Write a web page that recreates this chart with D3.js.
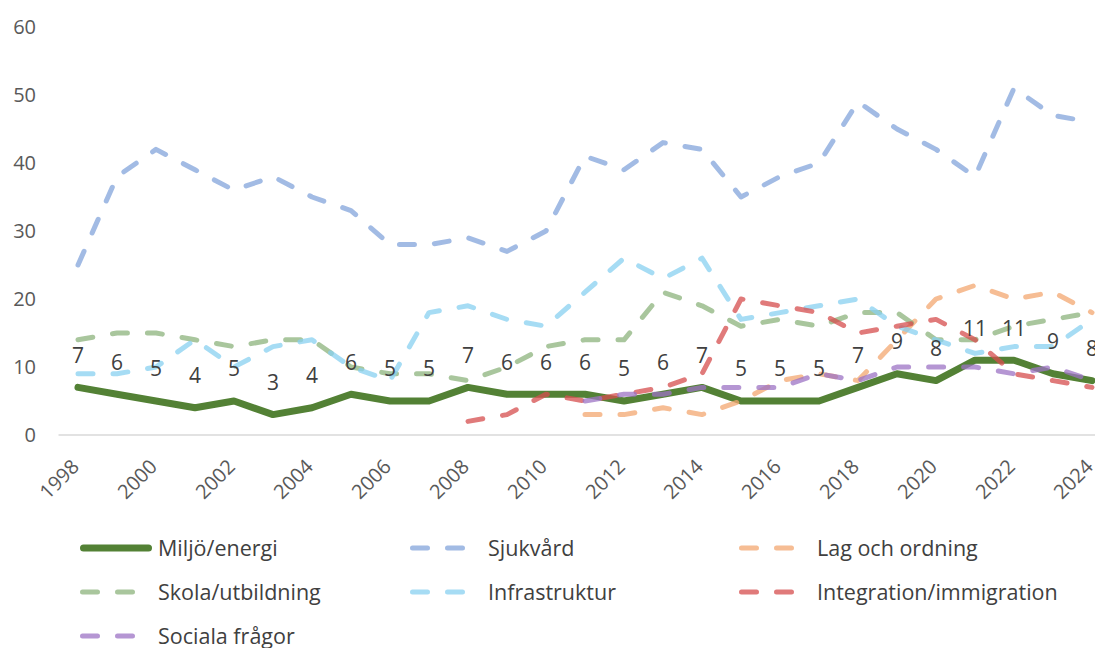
<!DOCTYPE html>
<html>
<head>
<meta charset="utf-8">
<script src="https://cdn.jsdelivr.net/npm/d3@7"></script>
<style>
  body { margin: 0; background: #fff; overflow: hidden; }
  text { font-family: "Open Sans", "Liberation Sans", Arial, sans-serif; }
</style>
</head>
<body>
<div id="chart"></div>
<script>
var years = [1998, 1999, 2000, 2001, 2002, 2003, 2004, 2005, 2006, 2007, 2008, 2009, 2010, 2011, 2012, 2013, 2014, 2015, 2016, 2017, 2018, 2019, 2020, 2021, 2022, 2023, 2024];

var miljo = [7, 6, 5, 4, 5, 3, 4, 6, 5, 5, 7, 6, 6, 6, 5, 6, 7, 5, 5, 5, 7, 9, 8, 11, 11, 9, 8];
var sjukvard = [25, 38, 42, 39, 36, 38, 35, 33, 28, 28, 29, 27, 30, 41, 39, 43, 42, 35, 38, 40, 49, 45, 42, 38, 51, 47, 46];
var lagOrdning = [null, null, null, null, null, null, null, null, null, null, null, null, null, 3, 3, 4, 3, 5, 8, 9, 8, 14, 20, 22, 20, 21, 18];
var skola = [14, 15, 15, 14, 13, 14, 14, 10, 9, 9, 8, 10, 13, 14, 14, 21, 19, 16, 17, 16, 18, 18, 14, 14, 16, 17, 18];
var infra = [9, 9, 10, 14, 10, 13, 14, 10, 8, 18, 19, 17, 16, 21, 26, 23, 26, 17, 18, 19, 20, 16, 14, 12, 13, 13, 17];
var integration = [null, null, null, null, null, null, null, null, null, null, 2, 3, 6, 5, 6, 7, 9, 20, 19, 18, 15, 16, 17, 14, 9, 8, 7];
var sociala = [null, null, null, null, null, null, null, null, null, null, null, null, null, 5, 6, 6, 7, 7, 7, 9, 8, 10, 10, 10, 9, 10, 8];

var yTicks = [0, 10, 20, 30, 40, 50, 60];
var xTickYears = [1998, 2000, 2002, 2004, 2006, 2008, 2010, 2012, 2014, 2016, 2018, 2020, 2022, 2024];

var series = [
  { name: "Miljö/energi", values: miljo, color: "#538135", dashed: false },
  { name: "Sjukvård", values: sjukvard, color: "#83a4db", dashed: true },
  { name: "Lag och ordning", values: lagOrdning, color: "#f3a770", dashed: true },
  { name: "Skola/utbildning", values: skola, color: "#8cb37c", dashed: true },
  { name: "Infrastruktur", values: infra, color: "#88d0f0", dashed: true },
  { name: "Integration/immigration", values: integration, color: "#d64e4e", dashed: true },
  { name: "Sociala frågor", values: sociala, color: "#9c73c4", dashed: true }
];

var w = 1095;
var h = 648;
var plotLeft = 58.5;
var step = 39;
var plotTop = 27;
var plotBottom = 435;
var dash = "15 20";
var font = "Open Sans, Liberation Sans, Arial, sans-serif";

const svg = d3.select("#chart").append("svg").attr("width", w).attr("height", h);

const xScale = d3
  .scalePoint()
  .domain(years)
  .range([plotLeft, plotLeft + step * years.length])
  .padding(0.5);

const yScale = d3.scaleLinear().domain([0, 60]).range([plotBottom, plotTop]);

// y labels (no axis line)
const yAxis = d3.axisLeft(yScale).tickValues(yTicks).tickSize(0).tickPadding(0);
svg
  .append("g")
  .attr("transform", "translate(36,0)")
  .call(yAxis)
  .call((g) => g.select(".domain").remove())
  .selectAll("text")
  .attr("font-size", "20px")
  .attr("fill", "#595959")
  .attr("font-family", font);

// baseline
svg
  .append("line")
  .attr("x1", plotLeft)
  .attr("x2", w)
  .attr("y1", yScale(0))
  .attr("y2", yScale(0))
  .attr("stroke", "#d9d9d9")
  .attr("stroke-width", 1.5);

// x labels
const xAxis = d3.axisBottom(xScale).tickValues(xTickYears).tickSize(0).tickPadding(0);
svg
  .append("g")
  .attr("transform", `translate(0,${plotBottom})`)
  .call(xAxis)
  .call((g) => g.select(".domain").remove())
  .selectAll("text")
  .attr("font-size", "20px")
  .attr("fill", "#595959")
  .attr("font-family", font)
  .attr("text-anchor", "end")
  .attr("dy", "0.35em")
  .attr("transform", "translate(-3,28) rotate(-45)");

const line = d3
  .line()
  .defined((d) => d != null)
  .x((d, i) => xScale(years[i]))
  .y((d) => yScale(d));

// solid line first, dashed lines over it
svg
  .append("path")
  .datum(miljo)
  .attr("fill", "none")
  .attr("stroke", series[0].color)
  .attr("stroke-width", 7)
  .attr("stroke-linejoin", "round")
  .attr("stroke-linecap", "round")
  .attr("d", line);

svg
  .selectAll(".dline")
  .data(series.filter((s) => s.dashed))
  .enter()
  .append("path")
  .attr("class", "dline")
  .attr("fill", "none")
  .attr("stroke", (s) => s.color)
  .attr("stroke-opacity", 0.75)
  .attr("stroke-width", 5)
  .attr("stroke-dasharray", dash)
  .attr("stroke-linecap", "round")
  .attr("stroke-linejoin", "round")
  .attr("d", (s) => line(s.values));

// data labels for Miljö/energi
svg
  .selectAll(".lbl")
  .data(miljo)
  .enter()
  .append("text")
  .attr("class", "lbl")
  .attr("x", (d, i) => xScale(years[i]))
  .attr("y", (d) => yScale(d) - 32)
  .attr("dy", "0.35em")
  .attr("text-anchor", "middle")
  .attr("font-size", "21px")
  .attr("fill", "#404040")
  .text((d) => d);

// legend
var colX = [80, 410, 739];
var rowY = [548, 592, 636];
const legend = svg
  .selectAll(".leg")
  .data(series)
  .enter()
  .append("g")
  .attr("class", "leg")
  .attr("transform", (s, i) => `translate(${colX[i % 3]},${rowY[Math.floor(i / 3)]})`);

legend
  .append("line")
  .attr("x1", (s) => (s.dashed ? 2.5 : 3.5))
  .attr("x2", (s) => (s.dashed ? 57.5 : 68.5))
  .attr("y1", 0)
  .attr("y2", 0)
  .attr("stroke", (s) => s.color)
  .attr("stroke-opacity", (s) => (s.dashed ? 0.75 : 1))
  .attr("stroke-width", (s) => (s.dashed ? 5 : 7))
  .attr("stroke-linecap", "round")
  .attr("stroke-dasharray", (s) => (s.dashed ? dash : null));

legend
  .append("text")
  .attr("x", 78)
  .attr("y", 0)
  .attr("dy", "0.35em")
  .attr("font-size", "21.5px")
  .attr("fill", "#404040")
  .text((s) => s.name);
</script>
</body>
</html>
